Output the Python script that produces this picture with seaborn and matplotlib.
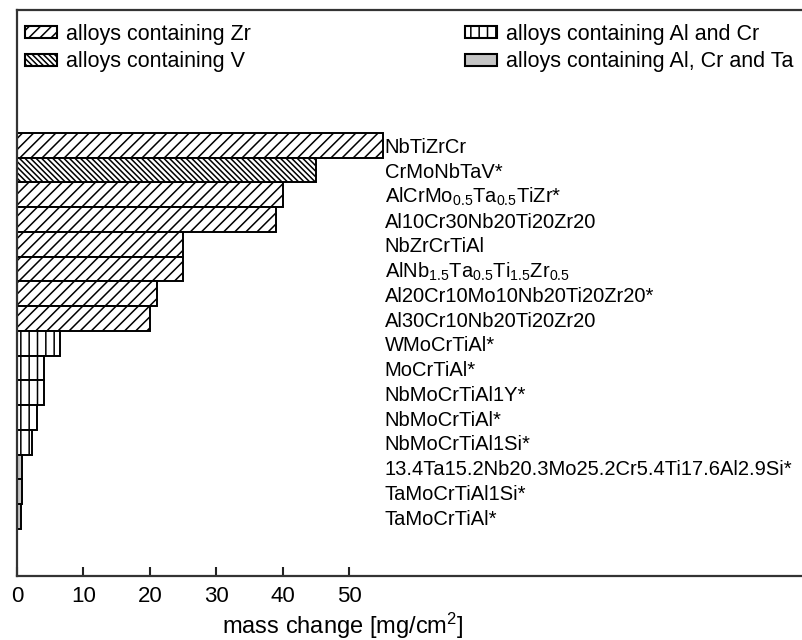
import matplotlib
matplotlib.use("Agg")
import matplotlib.pyplot as plt
import pandas as pd
import seaborn as sns
from matplotlib.patches import Patch

# Alloys, top to bottom, with their mass change after oxidation
alloys = [
    "NbTiZrCr",
    "CrMoNbTaV*",
    r"$\mathregular{AlCrMo_{0.5}Ta_{0.5}TiZr}$*",
    "Al10Cr30Nb20Ti20Zr20",
    "NbZrCrTiAl",
    r"$\mathregular{AlNb_{1.5}Ta_{0.5}Ti_{1.5}Zr_{0.5}}$",
    "Al20Cr10Mo10Nb20Ti20Zr20*",
    "Al30Cr10Nb20Ti20Zr20",
    "WMoCrTiAl*",
    "MoCrTiAl*",
    "NbMoCrTiAl1Y*",
    "NbMoCrTiAl*",
    "NbMoCrTiAl1Si*",
    "13.4Ta15.2Nb20.3Mo25.2Cr5.4Ti17.6Al2.9Si*",
    "TaMoCrTiAl1Si*",
    "TaMoCrTiAl*",
]
mass_change = [55, 45, 40, 39, 25, 25, 21, 20, 6.5, 4, 4, 3, 2.2, 0.8, 0.75, 0.6]
groups = ["Zr", "V", "Zr", "Zr", "Zr", "Zr", "Zr", "Zr",
          "AlCr", "AlCr", "AlCr", "AlCr", "AlCr",
          "AlCrTa", "AlCrTa", "AlCrTa"]

group_order = ["Zr", "V", "AlCr", "AlCrTa"]
group_labels = ["alloys containing Zr", "alloys containing V",
                "alloys containing Al and Cr", "alloys containing Al, Cr and Ta"]
group_face = {"Zr": "white", "V": "white", "AlCr": "white", "AlCrTa": "#c4c4c4"}
group_hatch = {"Zr": "///", "V": "\\\\\\\\\\\\", "AlCr": "||", "AlCrTa": ""}
x_ticks = [0, 10, 20, 30, 40, 50]

sns.set_style("ticks")
plt.rcParams["font.family"] = ["Liberation Sans", "DejaVu Sans"]
plt.rcParams["mathtext.fontset"] = "custom"
plt.rcParams["mathtext.rm"] = "Liberation Sans"
plt.rcParams["mathtext.it"] = "Liberation Sans:italic"
plt.rcParams["hatch.linewidth"] = 1.1
plt.rcParams["text.color"] = "black"
plt.rcParams["axes.labelcolor"] = "black"

df = pd.DataFrame({"alloy": alloys, "mass": mass_change, "group": groups})

fig = plt.figure(figsize=(8.02, 6.4), dpi=100)
ax = fig.add_axes([17 / 802, 64 / 640, 797.5 / 802, 566 / 640])

sns.barplot(data=df, x="mass", y="alloy", hue="group", hue_order=group_order,
            palette=group_face, dodge=False, width=1.0, saturation=1,
            edgecolor="black", linewidth=1.4, legend=False, ax=ax)

# hatch each bar according to the group of the row it sits on
for p in ax.patches:
    row = int(round(p.get_y() + p.get_height() / 2))
    if 0 <= row < len(groups):
        g = groups[row]
        p.set_hatch(group_hatch[g])
        p.set_facecolor(group_face[g])
        p.set_edgecolor("black")

ax.set_xlim(0, 120)
ax.set_ylim(17.4, -5.47)
ax.set_xticks(x_ticks)
ax.set_xticklabels([str(t) for t in x_ticks])
ax.tick_params(axis="x", direction="in", length=6.5, width=1.5, pad=7,
               labelsize=16, color="#222222", labelcolor="black")
ax.tick_params(axis="y", left=False, labelleft=False)
ax.set_ylabel("")
for s in ax.spines.values():
    s.set_linewidth(1.6)
    s.set_color("#333333")

# alloy names beside the bars
for i, name in enumerate(alloys):
    ax.text(55.3, i + 0.1, name, fontsize=14.5, va="center", ha="left",
            color="black")

ax.set_xlabel(r"mass change [mg/cm$\mathregular{^2}$]", fontsize=17)
ax.xaxis.set_label_coords((343 - 17) / 797.5, -0.062)
ax.xaxis.label.set_va("top")

handles = [Patch(facecolor=group_face[g], edgecolor="black", hatch=group_hatch[g],
                 linewidth=1.5) for g in group_order]
legend_kw = dict(loc="upper left", frameon=False, fontsize=15.5,
                 handlelength=1.5, handleheight=0.5, handletextpad=0.42,
                 labelspacing=0.3, borderpad=0, borderaxespad=0)
leg1 = ax.legend(handles[:2], group_labels[:2],
                 bbox_to_anchor=((25 - 17) / 797.5, 1 - 14 / 566), **legend_kw)
ax.add_artist(leg1)
ax.legend(handles[2:], group_labels[2:],
          bbox_to_anchor=((465 - 17) / 797.5, 1 - 14 / 566), **legend_kw)

fig.savefig("out.png", dpi=100)
